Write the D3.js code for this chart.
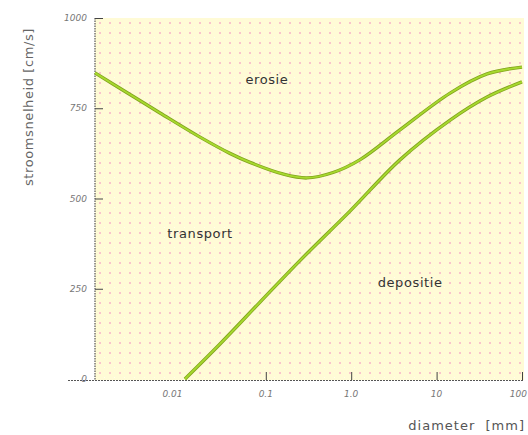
<!DOCTYPE html>
<html><head><meta charset="utf-8">
<script src="https://cdn.jsdelivr.net/npm/d3@7"></script>
<style>html,body{margin:0;padding:0;background:#fff;}svg{display:block;}</style>
</head><body>
<svg id="chart" width="528" height="435"></svg>
<script>
// Data (Hjulström diagram)
const erosieD = [0.001, 0.00257, 0.00577, 0.017, 0.038, 0.0653, 0.158, 0.302, 0.612, 1.26, 3.72, 14.4, 39, 100];
const erosieV = [848, 788, 737, 670, 625, 600, 568, 557, 572, 607, 690, 792, 845, 864];
const depositieD = [0.0113, 0.0291, 0.0856, 0.251, 0.968, 3.72, 14.4, 39, 100];
const depositieV = [0, 97, 213, 328, 465, 607, 717, 781, 823];
const xTickVals = [0.01, 0.1, 1, 10, 100];
const xTickLabels = ["0.01", "0.1", "1.0", "10", "100"];
const yTickVals = [0, 250, 500, 750, 1000];
const yTickLabels = ["0", "250", "500", "750", "1000"];
const regionLabels = ["erosie", "transport", "depositie"];
const regionD = [0.103, 0.017, 4.9];
const regionV = [817, 390, 255];

const svg = d3.select("#chart");
const L = 95, R = 522, T = 18, B = 379;
const x = d3.scaleLog().domain([0.001, 100]).range([L, R]);
const y = d3.scaleLinear().domain([0, 1000]).range([B, T]);

const defs = svg.append("defs");
const pat = defs.append("pattern").attr("id", "dots").attr("patternUnits", "userSpaceOnUse")
  .attr("width", 10).attr("height", 10).attr("x", L).attr("y", T);
pat.append("rect").attr("width", 10).attr("height", 10).attr("fill", "#fffbd6");
pat.append("rect").attr("x", 4).attr("y", 4).attr("width", 2).attr("height", 2).attr("fill", "#f9c4cc");
pat.append("rect").attr("x", 9).attr("y", 9).attr("width", 2).attr("height", 2).attr("fill", "#fffef2");

svg.append("rect").attr("x", L).attr("y", T).attr("width", R - L + 2).attr("height", B - T + 1)
  .attr("fill", "url(#dots)");

// axes lines
svg.append("line").attr("x1", L).attr("x2", L).attr("y1", T).attr("y2", B + 1)
  .attr("stroke", "#555").attr("stroke-width", 1.2).attr("stroke-dasharray", "1.5,1");
svg.append("line").attr("x1", 68).attr("x2", R + 1).attr("y1", B + 1.5).attr("y2", B + 1.5)
  .attr("stroke", "#555").attr("stroke-width", 1.2).attr("stroke-dasharray", "2,1");

// y ticks
const yAxis = d3.axisRight(y).tickValues(yTickVals.slice(1)).tickSize(8).tickFormat("");
const gy = svg.append("g").attr("transform", `translate(${L},0)`).call(yAxis);
gy.select(".domain").remove();
gy.selectAll("line").attr("stroke", "#444").attr("stroke-width", 1);
svg.append("g").selectAll("text").data(yTickVals).join("text")
  .attr("x", L - 8).attr("y", (d) => y(d) + 3)
  .attr("text-anchor", "end").attr("font-family", "DejaVu Sans").attr("font-size", 9)
  .attr("font-style", "italic").attr("fill", "#777")
  .text((d, i) => yTickLabels[i]);

// x ticks
const xAxis = d3.axisTop(x).tickValues(xTickVals.slice(1)).tickSize(8).tickFormat("");
const gx = svg.append("g").attr("transform", `translate(0,${B + 1})`).call(xAxis);
gx.select(".domain").remove();
gx.selectAll("line").attr("stroke", "#444").attr("stroke-width", 1);
svg.append("g").selectAll("text").data(xTickVals).join("text")
  .attr("x", (d) => d === 100 ? 527 : x(d) - (d === 0.01 ? 8 : 0)).attr("y", B + 18)
  .attr("text-anchor", (d) => d === 100 ? "end" : "middle")
  .attr("font-family", "DejaVu Sans").attr("font-size", 9)
  .attr("font-style", "italic").attr("fill", "#777")
  .text((d, i) => xTickLabels[i]);

// curves
const line = d3.line().x((d) => x(d[0])).y((d) => y(d[1])).curve(d3.curveCatmullRom.alpha(0.5));
const curves = [d3.zip(erosieD, erosieV), d3.zip(depositieD, depositieV)];
const cg = svg.append("g");
curves.forEach((c) => {
  cg.append("path").attr("d", line(c)).attr("fill", "none").attr("stroke", "#83a31e").attr("stroke-width", 3.4);
  cg.append("path").attr("d", line(c)).attr("fill", "none").attr("stroke", "#a6d92e").attr("stroke-width", 1.8);
});

// region labels
svg.append("g").selectAll("text").data(regionLabels).join("text")
  .attr("x", (d, i) => x(regionD[i])).attr("y", (d, i) => y(regionV[i]))
  .attr("text-anchor", "middle").attr("font-family", "DejaVu Sans").attr("font-size", 13)
  .attr("letter-spacing", 0.6)
  .attr("fill", "#333").text((d) => d);

// axis titles
svg.append("text").attr("transform", `translate(33,107) rotate(-90)`)
  .attr("text-anchor", "middle").attr("font-family", "DejaVu Sans").attr("font-size", 13)
  .attr("letter-spacing", 0.6)
  .attr("fill", "#666").text("stroomsnelheid [cm/s]");
svg.append("text").attr("x", 525).attr("y", 430).attr("text-anchor", "end")
  .attr("font-family", "DejaVu Sans").attr("font-size", 13).attr("fill", "#555")
  .attr("letter-spacing", 1)
  .attr("xml:space", "preserve").style("white-space", "pre").text("diameter  [mm]");
</script>
</body></html>
